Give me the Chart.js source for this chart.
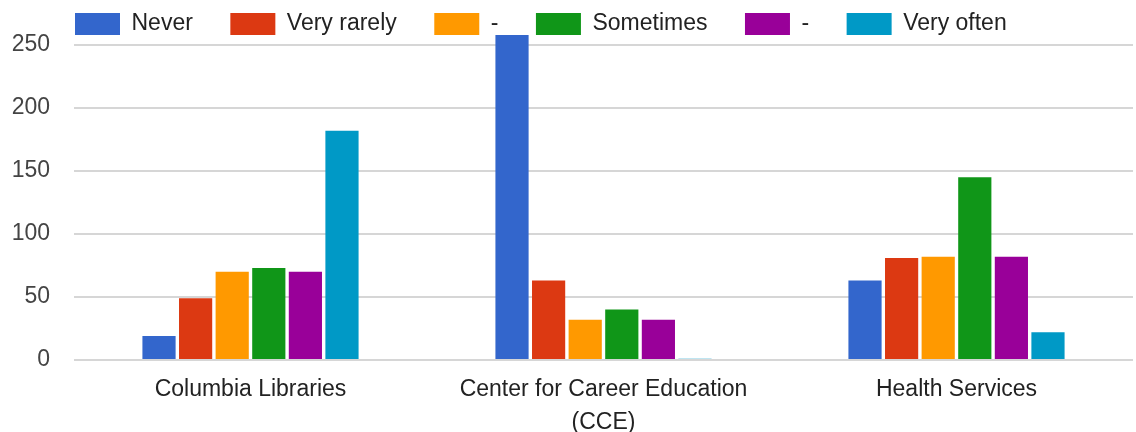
<!DOCTYPE html>
<html>
<head>
<meta charset="utf-8">
<script src="https://cdn.jsdelivr.net/npm/chart.js@4/dist/chart.umd.min.js"></script>
<style>
  html, body { margin: 0; padding: 0; background: #ffffff; }
  #wrap { width: 1136px; height: 432px; position: relative; }
</style>
</head>
<body>
<div id="wrap"><canvas id="c" width="1136" height="432"></canvas></div>
<script>
// ---- data ----
const categories = [
  "Columbia Libraries",
  ["Center for Career Education", "(CCE)"],
  "Health Services"
];
const seriesNames = ["Never", "Very rarely", "-", "Sometimes", "-", "Very often"];
const never      = [19, 258, 63];
const veryRarely = [49, 63, 81];
const rarelyMid  = [70, 32, 82];
const sometimes  = [73, 40, 145];
const oftenMid   = [70, 32, 82];
const veryOften  = [182, 1, 22];
const yTicks = [0, 50, 100, 150, 200, 250];
const yMax = 260;

const colors = ["#3366cc", "#dc3912", "#ff9900", "#109618", "#990099", "#0099c6"];
const seriesValues = [never, veryRarely, rarelyMid, sometimes, oftenMid, veryOften];

const FONT = "'Liberation Sans', Arial, sans-serif";

const datasets = seriesNames.map((name, i) => ({
  label: name,
  data: seriesValues[i],
  backgroundColor: colors[i],
  borderWidth: 0,
  categoryPercentage: 0.622,
  barPercentage: 0.907
}));

// place legend in line with the plot area, like the reference
const legendPlace = {
  id: 'legendPlace',
  afterLayout(chart) {
    const lg = chart.legend;
    if (!lg) return;
    const pad = lg.options.labels.padding;
    lg.left = chart.chartArea.left + 1 - pad;
    lg.right = chart.width + 200;
    lg.top = 12.5 - pad;
    lg.bottom = 44;
  }
};

new Chart(document.getElementById('c'), {
  type: 'bar',
  data: { labels: categories, datasets },
  plugins: [legendPlace],
  options: {
    responsive: false,
    animation: false,
    layout: { padding: { left: 0, right: 3, top: 0, bottom: 0 } },
    plugins: {
      tooltip: { enabled: false },
      legend: {
        position: 'top',
        align: 'start',
        maxHeight: 32.4,
        labels: {
          boxWidth: 45,
          boxHeight: 22,
          padding: 37.5,
          color: '#222222',
          font: { family: FONT, size: 23 }
        }
      }
    },
    scales: {
      x: {
        grid: { display: false, drawTicks: false },
        border: { display: false },
        ticks: {
          color: '#222222',
          font: { family: FONT, size: 23, lineHeight: 1.4 },
          padding: 14,
          maxRotation: 0,
          autoSkip: false
        },
        afterFit(scale) { scale.height = 72; }
      },
      y: {
        min: 0,
        max: yMax,
        grid: { color: '#d6d6d6', lineWidth: 2, drawTicks: false },
        border: { display: false },
        ticks: {
          color: '#444444',
          font: { family: FONT, size: 23 },
          padding: 24
        },
        afterBuildTicks(scale) { scale.ticks = yTicks.map(v => ({ value: v })); },
        afterFit(scale) {
          scale.width = 74;
          scale.paddingTop = 0;
          scale.paddingBottom = 0;
        }
      }
    }
  }
});
</script>
</body>
</html>
